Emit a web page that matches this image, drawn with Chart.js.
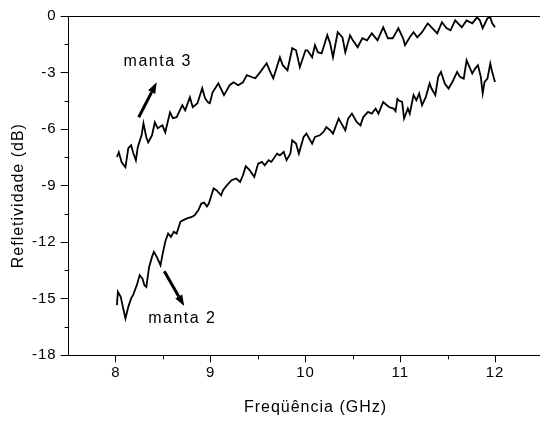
<!DOCTYPE html>
<html><head><meta charset="utf-8">
<script src="https://cdn.jsdelivr.net/npm/chart.js@4/dist/chart.umd.min.js"></script>
<style>html,body{margin:0;padding:0;overflow:hidden;background:#fff}#wrap{position:relative;width:560px;height:422px}</style>
</head><body><div id="wrap"><canvas id="c"></canvas></div>
<script>
const manta3Freq = [8.01,8.03,8.06,8.10,8.13,8.16,8.18,8.21,8.23,8.27,8.29,8.32,8.34,8.38,8.41,8.44,8.49,8.52,8.57,8.60,8.64,8.70,8.73,8.78,8.81,8.86,8.91,8.94,8.97,8.99,9.02,9.08,9.14,9.20,9.24,9.29,9.34,9.38,9.44,9.47,9.52,9.59,9.63,9.66,9.73,9.76,9.81,9.86,9.90,9.94,10.00,10.02,10.07,10.10,10.13,10.17,10.23,10.26,10.29,10.34,10.39,10.42,10.47,10.50,10.55,10.60,10.65,10.70,10.76,10.82,10.87,10.92,10.95,10.98,11.03,11.05,11.10,11.14,11.18,11.23,11.29,11.34,11.39,11.44,11.49,11.53,11.58,11.61,11.65,11.70,11.76,11.81,11.84,11.87,11.92,11.95,11.97,12.00];
const manta3Refl = [-7.48,-7.23,-7.76,-8.02,-7.01,-6.86,-7.23,-7.65,-6.96,-6.33,-5.69,-6.43,-6.70,-6.33,-5.64,-5.95,-5.80,-6.17,-5.11,-5.42,-5.37,-4.73,-5.00,-4.31,-4.84,-4.63,-3.83,-4.36,-4.58,-4.63,-4.05,-3.57,-4.20,-3.67,-3.52,-3.67,-3.52,-3.14,-3.25,-3.30,-2.99,-2.51,-2.99,-3.30,-2.19,-2.61,-2.88,-1.71,-1.82,-2.72,-1.82,-1.82,-2.19,-1.55,-1.92,-1.98,-1.02,-1.45,-2.19,-0.86,-1.13,-1.92,-1.02,-1.29,-1.66,-1.18,-1.29,-0.92,-1.29,-0.60,-1.18,-1.18,-0.92,-0.65,-1.18,-1.55,-1.13,-0.86,-1.13,-0.86,-0.39,-0.65,-0.92,-0.33,-0.65,-0.76,-0.23,-0.39,-0.60,-0.23,-0.39,-0.07,-0.23,-0.65,-0.12,-0.07,-0.39,-0.60];
const manta2Freq = [8.01,8.02,8.05,8.08,8.10,8.13,8.16,8.18,8.22,8.25,8.28,8.30,8.32,8.35,8.38,8.40,8.43,8.47,8.49,8.52,8.55,8.58,8.61,8.64,8.68,8.71,8.75,8.80,8.83,8.87,8.90,8.93,8.96,8.98,9.03,9.06,9.11,9.13,9.17,9.22,9.27,9.31,9.34,9.37,9.41,9.46,9.50,9.54,9.57,9.61,9.64,9.70,9.73,9.77,9.80,9.84,9.86,9.90,9.93,9.98,10.01,10.07,10.10,10.15,10.19,10.22,10.26,10.29,10.35,10.38,10.42,10.45,10.49,10.54,10.58,10.61,10.66,10.70,10.74,10.77,10.82,10.88,10.93,10.95,10.97,10.99,11.02,11.04,11.08,11.10,11.14,11.17,11.20,11.23,11.27,11.31,11.33,11.37,11.40,11.43,11.47,11.51,11.55,11.60,11.63,11.67,11.70,11.73,11.76,11.79,11.82,11.85,11.87,11.89,11.92,11.95,11.97,12.00];
const manta2Refl = [-15.34,-14.63,-14.90,-15.60,-16.05,-15.43,-14.98,-14.81,-14.28,-13.75,-13.93,-14.28,-14.37,-13.31,-12.78,-12.51,-12.78,-13.22,-12.69,-11.98,-11.54,-11.72,-11.45,-11.54,-10.92,-10.83,-10.74,-10.66,-10.57,-10.30,-9.95,-9.90,-10.10,-9.95,-9.15,-9.24,-9.51,-9.24,-8.98,-8.71,-8.62,-8.80,-8.45,-7.97,-8.18,-8.54,-7.83,-7.74,-7.92,-7.65,-7.74,-7.30,-7.39,-7.21,-7.65,-7.30,-6.59,-6.77,-7.30,-6.42,-6.24,-6.77,-6.42,-6.33,-6.15,-5.89,-6.06,-6.24,-5.44,-5.71,-6.06,-5.44,-5.18,-5.62,-5.80,-5.36,-5.09,-5.18,-4.91,-5.18,-4.56,-4.83,-4.91,-5.05,-4.40,-4.50,-4.56,-5.44,-4.91,-5.18,-4.20,-4.47,-4.11,-4.73,-4.29,-3.58,-3.85,-4.20,-3.23,-2.97,-3.58,-3.85,-3.50,-2.97,-3.23,-3.32,-2.35,-2.70,-3.05,-2.79,-2.61,-3.23,-4.11,-3.50,-3.32,-2.52,-2.97,-3.50];

const xMajor = [8,9,10,11,12];
const xMinor = [8.5,9.5,10.5,11.5];
const yMajor = [-18,-15,-12,-9,-6,-3,0];
const yMinor = [-16.5,-13.5,-10.5,-7.5,-4.5,-1.5];
const xTitle = 'Freqüência (GHz)';
const yTitle = 'Refletividade (dB)';
const noteText = ['manta 3','manta 2'];
const noteAt = [[8.08,-2.4],[8.34,-16.03]];
const arrowFrom = [[8.24,-5.37],[8.51,-13.54]];
const arrowTo = [[8.43,-3.52],[8.72,-15.39]];

const FONT = 'Arial, "Liberation Sans", sans-serif';
Chart.defaults.font.family = FONT;
Chart.defaults.color = '#000';

const pts = (fx, fy) => fx.map((x, i) => ({x: x, y: fy[i]}));

const decor = {
  id: 'decor',
  beforeDraw(chart) { chart.ctx.letterSpacing = '1px'; },
  afterDraw(chart) {
    const ctx = chart.ctx, a = chart.chartArea, x = chart.scales.x, y = chart.scales.y;
    ctx.save();
    ctx.strokeStyle = '#000'; ctx.fillStyle = '#000'; ctx.lineWidth = 1;
    ctx.beginPath();
    xMinor.forEach(v => { const p = Math.round(x.getPixelForValue(v)) + 0.5; ctx.moveTo(p, a.bottom); ctx.lineTo(p, a.bottom + 4); });
    yMinor.forEach(v => { const p = Math.round(y.getPixelForValue(v)) + 0.5; ctx.moveTo(a.left, p); ctx.lineTo(a.left - 4, p); });
    ctx.stroke();
    ctx.letterSpacing = '1px';
    ctx.font = '16px ' + FONT;
    ctx.textAlign = 'center'; ctx.textBaseline = 'middle';
    ctx.fillText(xTitle, (a.left + a.right) / 2 + 10, a.bottom + 52);
    ctx.save();
    ctx.translate(19, (a.top + a.bottom) / 2 + 10);
    ctx.rotate(-Math.PI / 2);
    ctx.fillText(yTitle, 0, 0);
    ctx.restore();
    ctx.letterSpacing = '1.5px';
    ctx.textAlign = 'left';
    noteText.forEach((t, i) => {
      ctx.fillText(t, x.getPixelForValue(noteAt[i][0]), y.getPixelForValue(noteAt[i][1]));
    });
    arrowFrom.forEach((f, i) => {
      const x0 = x.getPixelForValue(f[0]), y0 = y.getPixelForValue(f[1]);
      const x1 = x.getPixelForValue(arrowTo[i][0]), y1 = y.getPixelForValue(arrowTo[i][1]);
      const ang = Math.atan2(y1 - y0, x1 - x0);
      const hl = 11, hw = 4;
      const bx = x1 - hl * Math.cos(ang), by = y1 - hl * Math.sin(ang);
      ctx.lineWidth = 3; ctx.lineCap = 'butt';
      ctx.beginPath(); ctx.moveTo(x0, y0); ctx.lineTo(bx, by); ctx.stroke();
      ctx.beginPath();
      ctx.moveTo(x1, y1);
      ctx.lineTo(bx + hw * Math.sin(ang), by - hw * Math.cos(ang));
      ctx.lineTo(bx - hw * Math.sin(ang), by + hw * Math.cos(ang));
      ctx.closePath(); ctx.fill();
    });
    ctx.restore();
  }
};

new Chart(document.getElementById('c'), {
  type: 'line',
  data: {
    datasets: [
      {label: noteText[0], data: pts(manta3Freq, manta3Refl), borderColor: '#000', borderWidth: 1.8, pointRadius: 0, tension: 0, fill: false},
      {label: noteText[1], data: pts(manta2Freq, manta2Refl), borderColor: '#000', borderWidth: 1.8, pointRadius: 0, tension: 0, fill: false}
    ]
  },
  options: {
    responsive: true, maintainAspectRatio: false, animation: false,
    layout: {padding: {top: 16, right: 17.6, bottom: 0, left: 0}},
    plugins: {legend: {display: false}, tooltip: {enabled: false}},
    scales: {
      x: {
        type: 'linear', position: 'bottom', min: 7.5, max: 12.5,
        afterBuildTicks: s => { s.ticks = xMajor.map(v => ({value: v})); },
        ticks: {font: {size: 15}, color: '#000', padding: 2, maxRotation: 0, autoSkip: false, callback: v => String(v)},
        grid: {drawOnChartArea: false, drawTicks: true, tickLength: 7, tickColor: '#000', tickWidth: 1},
        border: {display: true, color: '#000', width: 1},
        afterFit: s => { s.height = 66.7; }
      },
      xTop: {
        type: 'linear', position: 'top', min: 7.5, max: 12.5,
        ticks: {display: false},
        grid: {drawOnChartArea: false, drawTicks: false},
        border: {display: true, color: '#000', width: 1},
        afterFit: s => { s.height = 0; }
      },
      y: {
        type: 'linear', position: 'left', min: -18, max: 0,
        afterBuildTicks: s => { s.ticks = yMajor.map(v => ({value: v})); },
        ticks: {font: {size: 15}, color: '#000', padding: 4, autoSkip: false, callback: v => String(v)},
        grid: {drawOnChartArea: false, drawTicks: true, tickLength: 8, tickColor: '#000', tickWidth: 1},
        border: {display: true, color: '#000', width: 1},
        afterFit: s => { s.width = 68.6; }
      }
    }
  },
  plugins: [decor]
});
</script>
</body></html>
